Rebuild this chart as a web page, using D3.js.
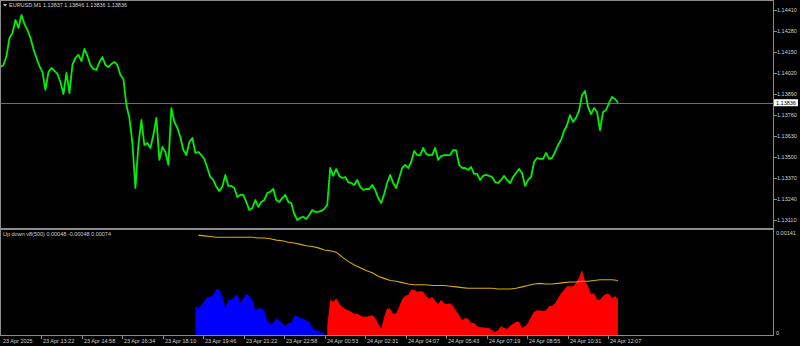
<!DOCTYPE html>
<html>
<head>
<meta charset="utf-8">
<script src="https://cdn.jsdelivr.net/npm/d3@7/dist/d3.min.js"></script>
<style>
html,body{margin:0;padding:0;background:#000;}
svg{display:block;}
text{font-family:"Liberation Sans",Arial,sans-serif;}
</style>
</head>
<body>
<svg id="chart" width="800" height="346"></svg>
<script>
// ---------- DATA ----------
const symbolTitle = "EURUSD,M1";
const ohlcNow = [1.13837, 1.13846, 1.13836, 1.13836];
const lastPrice = 1.13836;
const priceTicks = [1.14410,1.14280,1.14150,1.14020,1.13890,1.13760,1.13630,1.13500,1.13370,1.13240,1.13110];
const timeLabels = ["23 Apr 2025","23 Apr 13:22","23 Apr 14:58","23 Apr 16:34","23 Apr 18:10","23 Apr 19:46","23 Apr 21:22","23 Apr 22:58","24 Apr 00:53","24 Apr 02:31","24 Apr 04:07","24 Apr 05:43","24 Apr 07:19","24 Apr 08:55","24 Apr 10:31","24 Apr 12:07"];
const barsPerTick = 96;
const barsPerPoint = 7.1;

// sampled closes (one value every ~7 one-minute bars)
const closes = [
1.14057,1.14070,1.14125,1.14237,1.14268,1.14348,1.14299,1.14379,1.14323,1.14286,
1.14237,1.14169,1.14113,1.14063,1.14026,1.13915,1.14026,1.14051,1.14033,1.14014,
1.13964,1.13890,1.14020,1.13896,1.14070,1.14113,1.14132,1.14094,1.14169,1.14125,
1.14070,1.14045,1.14039,1.14088,1.14119,1.14070,1.14057,1.14076,1.14088,1.14070,
1.14008,1.13983,1.13822,1.13742,1.13587,1.13308,1.13574,1.13729,1.13574,1.13587,
1.13556,1.13636,1.13742,1.13482,1.13562,1.13531,1.13451,1.13803,1.13717,1.13680,
1.13624,1.13543,1.13512,1.13593,1.13618,1.13525,1.13531,1.13512,1.13488,1.13432,
1.13376,1.13358,1.13315,1.13290,1.13315,1.13389,1.13321,1.13321,1.13308,1.13253,
1.13265,1.13265,1.13222,1.13172,1.13184,1.13234,1.13191,1.13222,1.13234,1.13277,
1.13284,1.13302,1.13234,1.13222,1.13246,1.13265,1.13222,1.13215,1.13147,1.13110,
1.13123,1.13129,1.13116,1.13141,1.13172,1.13160,1.13160,1.13166,1.13178,1.13203,
1.13432,1.13383,1.13426,1.13383,1.13370,1.13376,1.13345,1.13339,1.13327,1.13358,
1.13315,1.13296,1.13302,1.13302,1.13327,1.13296,1.13246,1.13215,1.13271,1.13339,
1.13389,1.13339,1.13308,1.13370,1.13432,1.13451,1.13432,1.13469,1.13537,1.13512,
1.13512,1.13556,1.13519,1.13512,1.13512,1.13556,1.13482,1.13506,1.13512,1.13512,
1.13512,1.13543,1.13543,1.13451,1.13432,1.13432,1.13420,1.13438,1.13395,1.13395,
1.13358,1.13383,1.13389,1.13383,1.13376,1.13345,1.13339,1.13358,1.13383,1.13358,
1.13339,1.13376,1.13401,1.13426,1.13401,1.13321,1.13358,1.13376,1.13469,1.13494,
1.13488,1.13488,1.13525,1.13488,1.13494,1.13531,1.13574,1.13605,1.13661,1.13698,
1.13760,1.13717,1.13742,1.13785,1.13884,1.13909,1.13810,1.13766,1.13803,1.13779,
1.13667,1.13779,1.13791,1.13834,1.13872,1.13859,1.13836
];

// indicator "Up down v8(500)"
const indName = "Up down v8(500)";
const indNow = ["0.00048","-0.00048","0.00074"];
const indMax = 0.00141;
const upStart = 65;      // sample index where the indicator begins
const upHist = [
0.00038,0.00035,0.00039,0.00045,0.00051,0.00051,0.00054,0.00062,0.00061,0.00052,
0.00035,0.00047,0.00047,0.00051,0.00055,0.00042,0.00049,0.00055,0.00052,0.00047,
0.00032,0.00035,0.00035,0.00032,0.00017,0.00013,0.00014,0.00021,0.00017,0.00014,
0.00010,0.00014,0.00014,0.00025,0.00024,0.00021,0.00020,0.00018,0.00016,0.00007,
0.00004,0.00003,0.00001,0.00000
];
const downHist = [
0.00010,0.00047,0.00044,0.00049,0.00042,0.00037,0.00034,0.00032,0.00030,0.00027,
0.00027,0.00025,0.00023,0.00023,0.00024,0.00025,0.00021,0.00013,0.00006,0.00023,
0.00035,0.00034,0.00027,0.00028,0.00037,0.00048,0.00052,0.00054,0.00061,0.00061,
0.00058,0.00059,0.00058,0.00052,0.00048,0.00051,0.00045,0.00041,0.00047,0.00042,
0.00041,0.00042,0.00038,0.00031,0.00025,0.00018,0.00021,0.00020,0.00014,0.00014,
0.00010,0.00008,0.00008,0.00007,0.00007,0.00004,0.00001,0.00004,0.00010,0.00007,
0.00006,0.00010,0.00013,0.00016,0.00016,0.00007,0.00010,0.00014,0.00023,0.00030,
0.00032,0.00032,0.00031,0.00032,0.00038,0.00038,0.00042,0.00049,0.00056,0.00061,
0.00066,0.00066,0.00066,0.00071,0.00078,0.00089,0.00073,0.00066,0.00055,0.00056,
0.00047,0.00047,0.00052,0.00055,0.00055,0.00049,0.00052,0.00048
];
const avgStart = 66, avgStep = 2;
const avgLine = [
0.00138,0.00137,0.00136,0.00135,0.00135,0.00135,0.00135,0.00135,0.00135,0.00135,
0.00134,0.00134,0.00133,0.00131,0.00130,0.00128,0.00127,0.00125,0.00123,0.00122,
0.00120,0.00117,0.00116,0.00114,0.00107,0.00101,0.00096,0.00092,0.00088,0.00085,
0.00080,0.00077,0.00074,0.00073,0.00071,0.00069,0.00068,0.00068,0.00068,0.00067,
0.00067,0.00067,0.00066,0.00065,0.00064,0.00063,0.00063,0.00063,0.00063,0.00063,
0.00062,0.00062,0.00062,0.00063,0.00065,0.00067,0.00069,0.00070,0.00069,0.00069,
0.00070,0.00071,0.00072,0.00072,0.00073,0.00073,0.00074,0.00075,0.00075,0.00075,
0.00074
];

// ---------- LAYOUT ----------
const plotL = 0, plotR = 773;
const mainT = 0, mainB = 228;
const subT = 230, subB = 335;
const frameCol = "#8c8c8c";
const textCol = "#d0d0d0";
const fs = 5.5;

const svg = d3.select("#chart");
svg.append("rect").attr("width",800).attr("height",346).attr("fill","#000");

const x = d3.scaleLinear().domain([0, closes.length-1]).range([0.5, 618]);
const xBar = b => x(b / barsPerPoint);
const y = d3.scaleLinear().domain([1.13110, 1.14410]).range([220, 10]);
const ys = d3.scaleLinear().domain([0, indMax]).range([333, 233]);

// frames
const g = svg.append("g").attr("shape-rendering","crispEdges");
g.append("rect").attr("x",plotL+0.5).attr("y",mainT+0.5).attr("width",plotR-plotL).attr("height",mainB-mainT)
  .attr("fill","none").attr("stroke",frameCol);
g.append("rect").attr("x",plotL+0.5).attr("y",subT-0.5).attr("width",plotR-plotL).attr("height",subB-subT+0.5)
  .attr("fill","none").attr("stroke",frameCol);

// clip paths
svg.append("clipPath").attr("id","cm").append("rect").attr("x",plotL+1).attr("y",mainT+1).attr("width",plotR-plotL-1).attr("height",mainB-mainT-1);
svg.append("clipPath").attr("id","cs").append("rect").attr("x",plotL+1).attr("y",subT).attr("width",plotR-plotL-1).attr("height",subB-subT);

// last price line
g.append("line").attr("x1",plotL+1).attr("x2",plotR).attr("y1",Math.round(y(lastPrice))+0.5).attr("y2",Math.round(y(lastPrice))+0.5)
  .attr("stroke","#6e6e6e");

// price line
svg.append("path").datum(closes).attr("clip-path","url(#cm)")
  .attr("d", d3.line().x((d,i)=>x(i)).y(d=>y(d)))
  .attr("fill","none").attr("stroke","#00f000").attr("stroke-width",1.8).attr("stroke-linejoin","round");

// indicator histograms
const sub = svg.append("g").attr("clip-path","url(#cs)");
const histArea = (start) => d3.area().x((d,i)=>x(start+i)).y0(subB).y1(d=>ys(d));
sub.append("path").datum(upHist).attr("d", histArea(upStart)).attr("fill","#0000ff");
const downStart = upStart + upHist.length;
sub.append("path").datum(downHist).attr("d", histArea(downStart)).attr("fill","#ff0000");
sub.append("path").datum(avgLine)
  .attr("d", d3.line().x((d,i)=>x(avgStart+i*avgStep)).y(d=>ys(d)))
  .attr("fill","none").attr("stroke","#d9ad00").attr("stroke-width",1.1);

// right price axis
const ra = svg.append("g");
priceTicks.forEach(v=>{
  const yy = Math.round(y(v))+0.5;
  ra.append("line").attr("x1",plotR+0.5).attr("x2",plotR+3.5).attr("y1",yy).attr("y2",yy).attr("stroke",frameCol).attr("shape-rendering","crispEdges");
  ra.append("text").attr("x",plotR+4).attr("y",yy).attr("dy","0.35em").attr("font-size",fs).attr("fill",textCol).text(v.toFixed(5));
});
// last price label box
const ly = y(lastPrice);
ra.append("rect").attr("x",plotR+1).attr("y",ly-3.5).attr("width",24).attr("height",7).attr("fill","#fff");
ra.append("text").attr("x",plotR+3).attr("y",ly).attr("dy","0.35em").attr("font-size",fs).attr("fill","#000").text(lastPrice.toFixed(5));

// sub-window axis
[indMax, 0].forEach(v=>{
  ra.append("text").attr("x",plotR+3).attr("y",ys(v)).attr("dy","0.35em").attr("font-size",fs).attr("fill",textCol)
    .text(v===0 ? "0" : v.toFixed(5));
});

// time axis
timeLabels.forEach((t,k)=>{
  const xx = Math.round(xBar(k*barsPerTick))+0.5;
  if(k>0) svg.append("line").attr("x1",xx).attr("x2",xx).attr("y1",subB+0.5).attr("y2",subB+3.5).attr("stroke",frameCol).attr("shape-rendering","crispEdges");
  svg.append("text").attr("x",xx+1.5).attr("y",341).attr("dy","0.35em").attr("font-size",fs).attr("fill",textCol).text(t);
});

// headers
svg.append("path").attr("d","M3,4 L7,4 L5,6.5 Z").attr("fill",textCol);
svg.append("text").attr("x",9).attr("y",5).attr("dy","0.35em").attr("font-size",fs).attr("fill",textCol)
  .text(symbolTitle + "  " + ohlcNow.map(v=>v.toFixed(5)).join(" "));
svg.append("text").attr("x",3).attr("y",234.5).attr("dy","0.35em").attr("font-size",fs).attr("fill",textCol)
  .text(indName + " " + indNow.join(" "));
</script>
</body>
</html>
